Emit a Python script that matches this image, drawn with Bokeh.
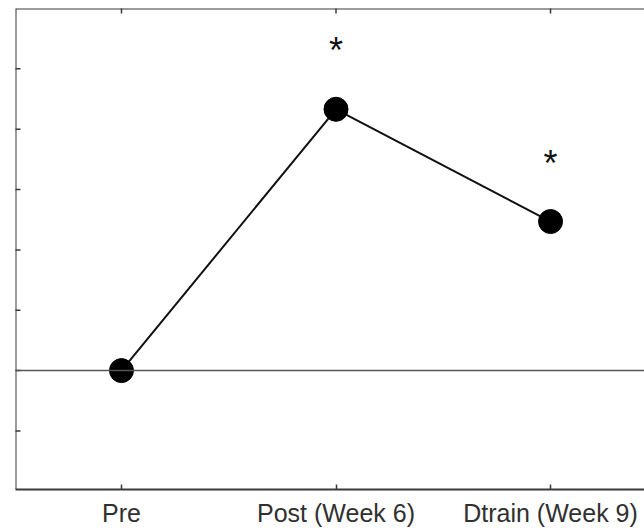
import math
from bokeh.plotting import figure
from bokeh.models import FixedTicker, LinearAxis, Span, ColumnDataSource, Range1d
from bokeh.core.properties import value
from bokeh.embed import file_html
from bokeh.resources import INLINE

# data
categories = ["Pre", "Post (Week 6)", "Dtrain (Week 9)"]
x_pos = [1, 2, 3]
values = [0.0, 4.33, 2.47]
significant = [False, True, True]
y_ticks = [-1, 0, 1, 2, 3, 4, 5]

X0, X1 = 0.506, 3.438
Y0, Y1 = -1.97, 6.0

AX = "#3a3a3a"
FONT = "Liberation Sans"

p = figure(width=644, height=529, output_backend="svg", toolbar_location=None,
           x_range=Range1d(X0, X1), y_range=Range1d(Y0, Y1),
           x_axis_location=None, y_axis_location=None,
           min_border_left=15, min_border_right=0, min_border_top=8, min_border_bottom=0)
p.outline_line_color = None
p.grid.visible = False
p.background_fill_color = "white"
p.border_fill_color = "white"

bottom = LinearAxis(ticker=FixedTicker(ticks=x_pos))
bottom.major_label_overrides = {x: c for x, c in zip(x_pos, categories)}
bottom.axis_line_color = AX
bottom.axis_line_width = 2
bottom.major_tick_in = 5
bottom.major_tick_out = 0
bottom.major_tick_line_color = AX
bottom.major_tick_line_width = 1.5
bottom.minor_tick_line_color = None
bottom.major_label_text_font = FONT
bottom.major_label_text_font_size = "25px"
bottom.major_label_text_color = "#303030"
bottom.major_label_standoff = 9
p.add_layout(bottom, "below")

# left and top frame lines
p.add_layout(Span(location=Y1, dimension="width", line_color=AX, line_width=2))
p.add_layout(Span(location=X0, dimension="height", line_color=AX, line_width=2))

# inward tick marks on the left and top edges (half of each dash is clipped by the frame)
p.scatter(x=[X0] * len(y_ticks), y=y_ticks, marker="dash", size=10,
          line_color=AX, line_width=1.5)
p.scatter(x=x_pos, y=[Y1] * len(x_pos), marker="dash", size=10, angle=math.pi / 2,
          line_color=AX, line_width=1.5)

# zero reference line
p.add_layout(Span(location=0, dimension="width", line_color="#555555", line_width=1.5))

src = ColumnDataSource(dict(x=x_pos, y=values))
p.line("x", "y", source=src, line_color="#111111", line_width=2)
p.scatter("x", "y", source=src, size=24, fill_color="black", line_color="black")

sx = [x for x, s in zip(x_pos, significant) if s]
sy = [v + 1.0 for v, s in zip(values, significant) if s]
p.text(x=sx, y=sy, text=["*"] * len(sx), text_font=value(FONT), text_font_size="36px",
       text_align="center", text_baseline="middle", y_offset=2, text_color="#111111")

open("out.html", "w").write(file_html(p, INLINE))
